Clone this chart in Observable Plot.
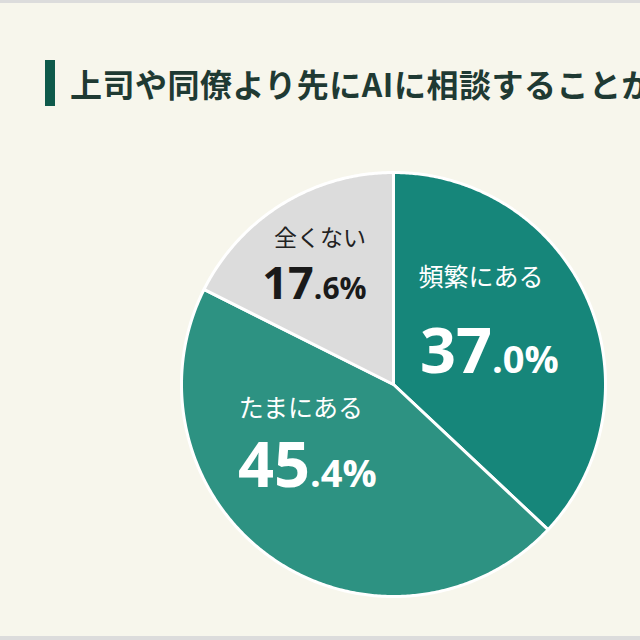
<!DOCTYPE html>
<html>
<head>
<meta charset="utf-8">
<script src="https://cdn.jsdelivr.net/npm/d3@7"></script>
<script src="https://cdn.jsdelivr.net/npm/@observablehq/plot@0.6"></script>
<style>
  html, body { margin: 0; padding: 0; background: #f7f6ec; }
  #frame { position: relative; width: 640px; height: 640px; overflow: hidden; background: #f7f6ec; }
  .band { position: absolute; left: 0; width: 640px; background: #dcdcdc; }
  #title { position: absolute; left: 45px; top: 60px; height: 46px; display: flex; align-items: center;
           white-space: nowrap; font-family: "Noto Sans CJK JP", sans-serif; font-weight: 700;
           font-size: 32px; letter-spacing: 0.5px; color: #1f3a33; }
  #title .bar { width: 10px; height: 46px; background: #0e5a4b; margin-right: 15px; flex: none; }
  #chart { position: absolute; left: 0; top: 134px; }
</style>
</head>
<body>
<div id="frame">
  <div class="band" style="top:0;height:3px"></div>
  <div id="title"><span class="bar"></span><span>上司や同僚より先にAIに相談することがありますか？</span></div>
  <div id="chart"></div>
  <div class="band" style="top:636px;height:4px"></div>
</div>
<script>
// Survey answers, clockwise from 12 o'clock
const categories = ["頻繁にある", "たまにある", "全くない"];
const shares = [37.0, 45.4, 17.6];
const colors = ["#16867a", "#2d9282", "#dcdcdc"];

// Pie geometry in units of the radius
const R = 212;
const arcs = d3.pie().sort(null).value(d => d)(shares);
const slicePoints = arcs.flatMap((a, i) => {
  const pts = [{category: categories[i], x: 0, y: 0}];
  const n = Math.max(2, Math.ceil((a.endAngle - a.startAngle) / (Math.PI / 360)));
  for (let k = 0; k <= n; ++k) {
    const t = a.startAngle + (a.endAngle - a.startAngle) * k / n;
    pts.push({category: categories[i], x: Math.sin(t), y: Math.cos(t)});
  }
  return pts;
});

// Labels sit near each slice's centroid, nudged for legibility
const nudgeName = {"頻繁にある": [-0.092, 0.247], "たまにある": [-0.122, 0.296], "全くない": [-0.058, 0.185]};
const nudgeValue = {"頻繁にある": [-0.040, -0.162], "たまにある": [-0.079, -0.033], "全くない": [-0.087, -0.064]};
const labels = arcs.map((a, i) => {
  const mid = (a.startAngle + a.endAngle) / 2;
  const cx = 0.55 * Math.sin(mid), cy = 0.55 * Math.cos(mid);
  const c = categories[i];
  const [whole, frac] = shares[i].toFixed(1).split(".");
  return {
    category: c,
    nameX: cx + nudgeName[c][0], nameY: cy + nudgeName[c][1],
    valX: cx + nudgeValue[c][0], valY: cy + nudgeValue[c][1],
    whole, frac: "." + frac + "%",
    small: c === "全くない"
  };
});
const light = d => !d.small, dark = d => d.small;

const chart = Plot.plot({
  width: 640,
  height: 500,
  margin: 0,
  style: {background: "transparent"},
  x: {axis: null, domain: [-393 / R, 247 / R]},
  y: {axis: null, domain: [-250 / R, 250 / R]},
  color: {domain: categories, range: colors},
  marks: [
    Plot.line(slicePoints, {x: "x", y: "y", z: "category", fill: "category", stroke: "white",
      strokeWidth: 3, strokeLinejoin: "round", curve: "linear-closed"}),
    // category names
    Plot.text(labels, {filter: light, x: "nameX", y: "nameY", text: "category", fill: "white",
      fontSize: 25, lineAnchor: "bottom", textAnchor: "middle", fontFamily: "Noto Sans CJK JP"}),
    Plot.text(labels, {filter: dark, x: "nameX", y: "nameY", text: "category", fill: "#222",
      fontSize: 23, lineAnchor: "bottom", textAnchor: "middle", fontFamily: "Noto Sans CJK JP"}),
    // percentages: whole part large, decimal part smaller
    Plot.text(labels, {filter: light, x: "valX", y: "valY", text: "whole", fill: "white",
      fontSize: 63, fontWeight: 700, lineAnchor: "bottom", textAnchor: "end", fontFamily: "Open Sans"}),
    Plot.text(labels, {filter: light, x: "valX", y: "valY", text: "frac", fill: "white",
      fontSize: 38, fontWeight: 700, lineAnchor: "bottom", textAnchor: "start", fontFamily: "Open Sans"}),
    Plot.text(labels, {filter: dark, x: "valX", y: "valY", text: "whole", fill: "#1a1a1a",
      fontSize: 45, fontWeight: 700, lineAnchor: "bottom", textAnchor: "end", fontFamily: "Open Sans"}),
    Plot.text(labels, {filter: dark, x: "valX", y: "valY", text: "frac", fill: "#1a1a1a",
      fontSize: 30, fontWeight: 700, lineAnchor: "bottom", textAnchor: "start", fontFamily: "Open Sans"})
  ]
});
document.getElementById("chart").append(chart);
</script>
</body>
</html>
